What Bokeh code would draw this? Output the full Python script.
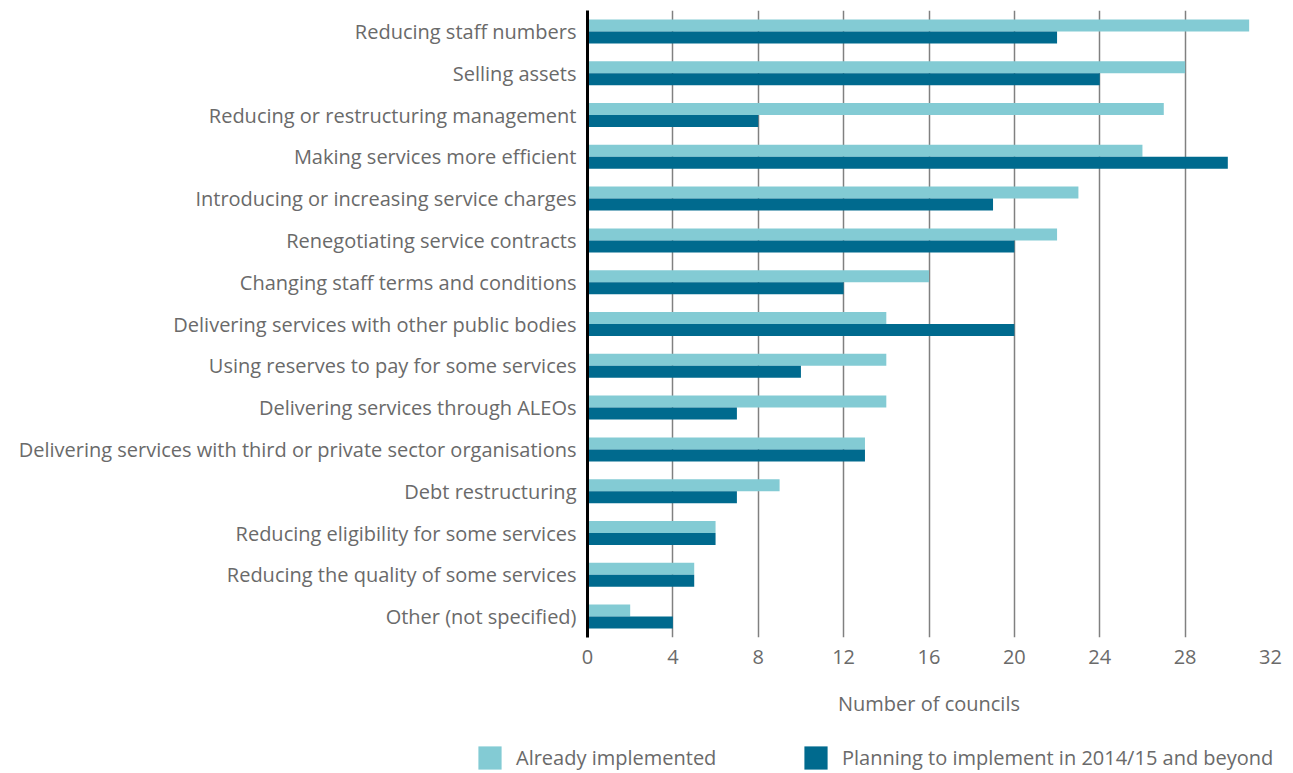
from bokeh.plotting import figure
from bokeh.models import FactorRange, Range1d, FixedTicker, ColumnDataSource, Legend, LegendItem
from bokeh.transform import dodge
from bokeh.embed import file_html
from bokeh.resources import INLINE

categories = [
    "Reducing staff numbers",
    "Selling assets",
    "Reducing or restructuring management",
    "Making services more efficient",
    "Introducing or increasing service charges",
    "Renegotiating service contracts",
    "Changing staff terms and conditions",
    "Delivering services with other public bodies",
    "Using reserves to pay for some services",
    "Delivering services through ALEOs",
    "Delivering services with third or private sector organisations",
    "Debt restructuring",
    "Reducing eligibility for some services",
    "Reducing the quality of some services",
    "Other (not specified)",
]
already_implemented = [31, 28, 27, 26, 23, 22, 16, 14, 14, 14, 13, 9, 6, 5, 2]
planning = [22, 24, 8, 30, 19, 20, 12, 20, 10, 7, 13, 7, 6, 5, 4]
x_ticks = [0, 4, 8, 12, 16, 20, 24, 28, 32]
series_names = ["Already implemented", "Planning to implement in 2014/15 and beyond"]
colors = ["#83CBD4", "#006A8E"]

FONT = "Open Sans"
TXT = "#6a6a6a"
FS = "20px"

W = 1285
H1 = 725
H2 = 47

src = ColumnDataSource(dict(cat=categories, a=already_implemented, b=planning))

p = figure(
    width=W, height=H1,
    y_range=FactorRange(factors=categories[::-1], range_padding=0),
    x_range=Range1d(0, 32),
    output_backend="svg", toolbar_location=None,
    min_border_left=587, min_border_right=W - 1270, min_border_top=10,
    min_border_bottom=H1 - 637,
)
p.outline_line_color = None
p.background_fill_color = "white"
p.border_fill_color = "white"

h = 0.287
p.hbar(y=dodge("cat", h / 2, range=p.y_range), right="a", left=0, height=h,
       source=src, fill_color=colors[0], line_color=None)
p.hbar(y=dodge("cat", -h / 2, range=p.y_range), right="b", left=0, height=h,
       source=src, fill_color=colors[1], line_color=None)

# grid
p.ygrid.grid_line_color = None
p.xgrid.ticker = FixedTicker(ticks=x_ticks)
p.xgrid.grid_line_color = "#808080"
p.xgrid.grid_line_width = 1.5
p.xgrid.level = "underlay"

# x axis
p.xaxis.ticker = FixedTicker(ticks=x_ticks)
p.xaxis.axis_line_color = None
p.xaxis.major_tick_line_color = None
p.xaxis.minor_tick_line_color = None
p.xaxis.major_tick_out = 0
p.xaxis.major_tick_in = 0
p.xaxis.major_label_standoff = 12
p.xaxis.major_label_text_font = FONT
p.xaxis.major_label_text_font_size = FS
p.xaxis.major_label_text_color = TXT
p.xaxis.axis_label = "Number of councils"
p.xaxis.axis_label_text_font = FONT
p.xaxis.axis_label_text_font_size = FS
p.xaxis.axis_label_text_font_style = "normal"
p.xaxis.axis_label_text_color = TXT
p.xaxis.axis_label_standoff = 23

# y axis
p.yaxis.axis_line_color = "black"
p.yaxis.axis_line_width = 3
p.yaxis.major_tick_line_color = None
p.yaxis.minor_tick_line_color = None
p.yaxis.major_tick_out = 0
p.yaxis.major_tick_in = 0
p.yaxis.major_label_standoff = 11
p.yaxis.major_label_text_font = FONT
p.yaxis.major_label_text_font_size = FS
p.yaxis.major_label_text_color = TXT

# legend strip (separate root, so its box is not tied to the chart frame).
# Its renderers are zero-area copies of the series, used only for the swatches.
lg = figure(width=W, height=H2, output_backend="svg", toolbar_location=None,
            x_axis_location=None, y_axis_location=None, min_border=0,
            x_range=Range1d(0, 1), y_range=Range1d(0, 1))
lg.outline_line_color = None
lg.grid.visible = False
lg.border_fill_color = "white"
lr1 = lg.hbar(y="a", right="a", left="a", height=0, source=src,
              fill_color=colors[0], line_color=None)
lr2 = lg.hbar(y="b", right="b", left="b", height=0, source=src,
              fill_color=colors[1], line_color=None)
legend = Legend(
    items=[LegendItem(label=series_names[0], renderers=[lr1]),
           LegendItem(label=series_names[1], renderers=[lr2])],
    orientation="horizontal",
    location=(475, 0),
    glyph_width=29, glyph_height=29,
    label_standoff=12, label_width=285, spacing=0,
    padding=0, margin=0,
    border_line_color=None, background_fill_alpha=0,
    label_text_font=FONT, label_text_font_size=FS, label_text_color=TXT,
)
lg.add_layout(legend, "center")

open("out.html", "w").write(file_html([p, lg], INLINE))
